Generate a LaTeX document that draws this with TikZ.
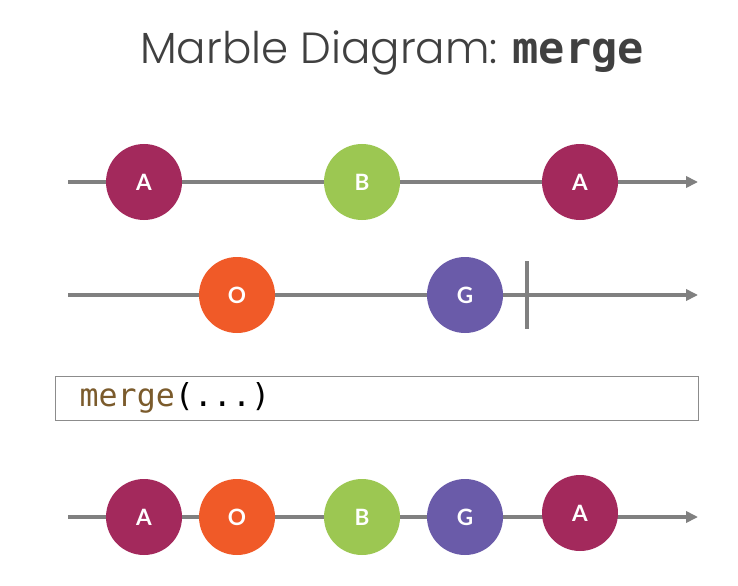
\documentclass[tikz,border=0pt]{standalone}
\usepackage{fontspec}
\setmainfont{Lato}
\newfontfamily\titlefont{Poppins}[UprightFont=* Light]
\newfontfamily\codefont{DejaVu Sans Mono}
\usetikzlibrary{arrows.meta}
\usetikzlibrary{positioning}

\definecolor{marbleA}{HTML}{A3295C}
\definecolor{marbleB}{HTML}{9CC752}
\definecolor{marbleO}{HTML}{F05A28}
\definecolor{marbleG}{HTML}{6A5BA9}
\definecolor{timeline}{HTML}{808080}
\definecolor{codebrown}{HTML}{7B5B2C}

\tikzset{
  marble/.style={circle,minimum size=1.9cm,inner sep=0pt,text=white,
    font=\fontsize{16}{16}\selectfont\bfseries},
  axis/.style={line width=2.2pt,draw=timeline,-{Triangle[length=0.3cm,width=0.28cm]}},
  endbar/.style={line width=2.2pt,draw=timeline}
}

\begin{document}
\begin{tikzpicture}
\useasboundingbox (0,0) rectangle (18.45,14.625);

% title
\node[font=\fontsize{31}{31}\selectfont,text=black!75] (title) at (9.8,13.3)
  {{\titlefont Marble Diagram:} \textbf{\codefont merge}};

% first source
\coordinate (s1) at (1.7,10.075);
\coordinate (e1) at (17.45,10.075);
\draw[axis] (s1) -- (e1);
\node[marble,fill=marbleA] (a1) at (3.6,10.075) {A};
\node[marble,fill=marbleB] (b1) at (9.05,10.075) {B};
\node[marble,fill=marbleA] (a2) at (14.5,10.075) {A};

% second source
\coordinate (s2) at (1.7,7.25);
\coordinate (e2) at (17.45,7.25);
\draw[axis] (s2) -- (e2);
\node[marble,fill=marbleO] (o1) at (5.925,7.25) {O};
\node[marble,fill=marbleG] (g1) at (11.625,7.25) {G};
\coordinate (c2) at (13.175,7.25);
\draw[endbar] ([yshift=0.85cm]c2) -- ([yshift=-0.85cm]c2);

% operator
\node[draw=black!45,line width=0.6pt,minimum width=16.075cm,minimum height=1.1cm,
  inner sep=0pt] (op) at (9.4125,4.675) {};
\node[anchor=west,font=\fontsize{22.5}{22.5}\selectfont\codefont,inner sep=0pt]
  (opname) at ([xshift=0.62cm]op.west) {\textcolor{codebrown}{merge}(...)};

% result
\coordinate (s3) at (1.7,1.7);
\coordinate (e3) at (17.45,1.7);
\draw[axis] (s3) -- (e3);
\node[marble,fill=marbleA] (a3) at (3.6,1.7) {A};
\node[marble,fill=marbleO] (o3) at (5.925,1.7) {O};
\node[marble,fill=marbleB] (b3) at (9.05,1.7) {B};
\node[marble,fill=marbleG] (g3) at (11.625,1.7) {G};
\node[marble,fill=marbleA] (a4) at (14.5,1.8) {A};

\end{tikzpicture}
\end{document}
